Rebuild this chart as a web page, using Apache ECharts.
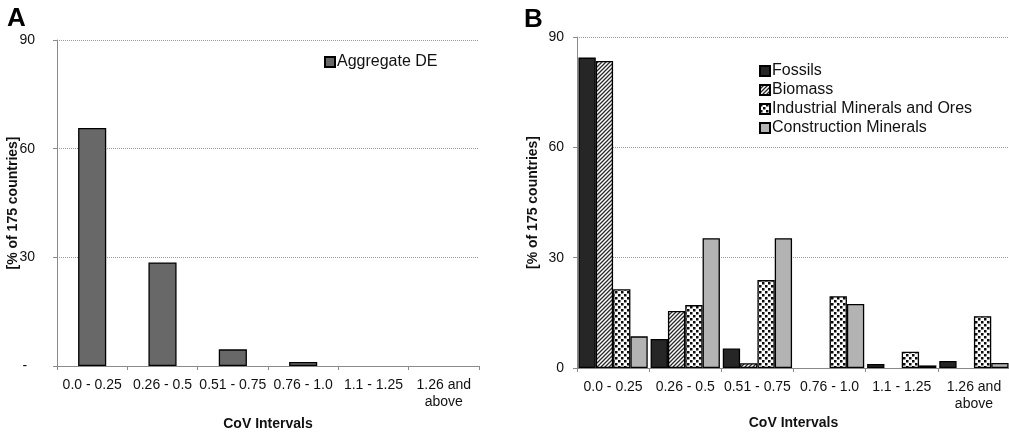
<!DOCTYPE html>
<html>
<head>
<meta charset="utf-8">
<script src="https://cdn.jsdelivr.net/npm/echarts@6/dist/echarts.min.js"></script>
<style>
html,body{margin:0;padding:0;background:#fff;}
#chart{width:1009px;height:432px;}
</style>
</head>
<body>
<div id="chart"></div>
<script>
// ---- data ----
const categories = ['0.0 - 0.25', '0.26 - 0.5', '0.51 - 0.75', '0.76 - 1.0', '1.1 - 1.25', '1.26 and\nabove'];
const yTicks = [0, 30, 60, 90];
const aggregateDE = [65.7, 28.6, 4.6, 1.1, 0, 0];
const fossils = [84.4, 7.9, 5.3, 0, 1.1, 1.9];
const biomass = [83.5, 15.5, 1.3, 0, 0, 0];
const industrial = [21.4, 17.1, 23.9, 19.5, 4.4, 14.1];
const construction = [8.6, 35.3, 35.3, 17.4, 0.7, 1.35];
const panelTitles = ['A', 'B'];
const seriesNamesB = ['Fossils', 'Biomass', 'Industrial Minerals and Ores', 'Construction Minerals'];

const FONT = "'Liberation Sans', Arial, sans-serif";

function hatchPattern() {
  const c = document.createElement('canvas');
  c.width = 4; c.height = 4;
  const g = c.getContext('2d');
  g.fillStyle = '#ffffff'; g.fillRect(0, 0, 4, 4);
  g.strokeStyle = '#2a2a2a'; g.lineWidth = 1.3;
  g.beginPath();
  g.moveTo(-1, 5); g.lineTo(5, -1);
  g.moveTo(-1, 1); g.lineTo(1, -1);
  g.moveTo(3, 5); g.lineTo(5, 3);
  g.stroke();
  return c;
}
function dotPattern() {
  const c = document.createElement('canvas');
  c.width = 6; c.height = 6;
  const g = c.getContext('2d');
  g.fillStyle = '#ffffff'; g.fillRect(0, 0, 6, 6);
  g.fillStyle = '#0a0a0a';
  g.fillRect(0, 0, 2.5, 2.5);
  g.fillRect(3, 3, 2.5, 2.5);
  return c;
}

const fillsB = ['#262626', {image: hatchPattern(), repeat: 'repeat'}, {image: dotPattern(), repeat: 'repeat'}, '#b3b3b3'];
const valuesB = [fossils, biomass, industrial, construction];

function mapZero(arr) {
  return arr.map(v => v === 0 ? {value: 0, itemStyle: {borderWidth: 0}} : v);
}

const chart = echarts.init(document.getElementById('chart'), null, {renderer: 'canvas'});

const axisGray = '#8a8a8a';
function xAxisCfg(gridIndex, nameGap) {
  return {
    type: 'category', gridIndex: gridIndex, data: categories,
    axisLine: {lineStyle: {color: axisGray, width: 1}},
    axisTick: {show: true, length: 4, lineStyle: {color: axisGray}},
    axisLabel: {color: '#111', fontSize: 14, fontFamily: FONT, margin: 11, lineHeight: 17, interval: 0},
    name: 'CoV Intervals', nameLocation: 'middle', nameGap: nameGap, nameMoveOverlap: false,
    nameTextStyle: {color: '#111', fontSize: 14, fontWeight: 'bold', fontFamily: FONT}
  };
}
function yAxisCfg(gridIndex, margin, fmt) {
  return {
    type: 'value', gridIndex: gridIndex, min: 0, max: 90, interval: 30,
    axisLine: {show: true, lineStyle: {color: axisGray, width: 1}},
    axisTick: {show: true, length: 4, lineStyle: {color: axisGray}},
    axisLabel: {color: '#111', fontSize: 14, fontFamily: FONT, margin: margin, formatter: fmt},
    splitLine: {show: true, lineStyle: {color: '#999', type: [1, 1], width: 1}},
    name: '[% of 175 countries]', nameLocation: 'middle', nameGap: 37, nameMoveOverlap: false,
    nameTextStyle: {color: '#111', fontSize: 14, fontWeight: 'bold', fontFamily: FONT}
  };
}

const seriesB = seriesNamesB.map((n, i) => ({
  type: 'bar', name: n, xAxisIndex: 1, yAxisIndex: 1,
  data: mapZero(valuesB[i]),
  barGap: '0%', barCategoryGap: '4%',
  itemStyle: {color: fillsB[i], borderColor: '#000', borderWidth: 1.3},
  emphasis: {disabled: true}
}));

chart.setOption({
  animation: false,
  backgroundColor: '#fff',
  textStyle: {fontFamily: FONT},
  graphic: [
    {type: 'text', left: 7, top: 6, style: {text: panelTitles[0], font: 'bold 26px ' + FONT, fill: '#000'}},
    {type: 'text', left: 524, top: 7, style: {text: panelTitles[1], font: 'bold 26px ' + FONT, fill: '#000'}}
  ],
  grid: [
    {left: 57, top: 40, width: 422, height: 326, containLabel: false, outerBoundsMode: 'none'},
    {left: 577, top: 37, width: 433, height: 331, containLabel: false, outerBoundsMode: 'none'}
  ],
  xAxis: [xAxisCfg(0, 51), xAxisCfg(1, 48)],
  yAxis: [
    yAxisCfg(0, 22, v => v === 0 ? '-  ' : String(v)),
    yAxisCfg(1, 13, v => String(v))
  ],
  legend: [
    {
      data: ['Aggregate DE'], left: 324, top: 54, itemWidth: 10, itemHeight: 10, icon: 'rect',
      padding: 0, selectedMode: false,
      textStyle: {fontSize: 16, color: '#111', fontFamily: FONT, padding: [0, 0, 0, -3]}
    },
    {
      data: seriesNamesB, orient: 'vertical', left: 759, top: 63, itemWidth: 10, itemHeight: 10, icon: 'rect',
      itemGap: 3, padding: 0, selectedMode: false,
      textStyle: {fontSize: 16, color: '#111', fontFamily: FONT, padding: [0, 0, 0, -3]}
    }
  ],
  series: [
    {
      type: 'bar', name: 'Aggregate DE', xAxisIndex: 0, yAxisIndex: 0,
      data: mapZero(aggregateDE), barCategoryGap: '60%',
      itemStyle: {color: '#686868', borderColor: '#000', borderWidth: 1.3},
      emphasis: {disabled: true}
    }
  ].concat(seriesB)
});
</script>
</body>
</html>
